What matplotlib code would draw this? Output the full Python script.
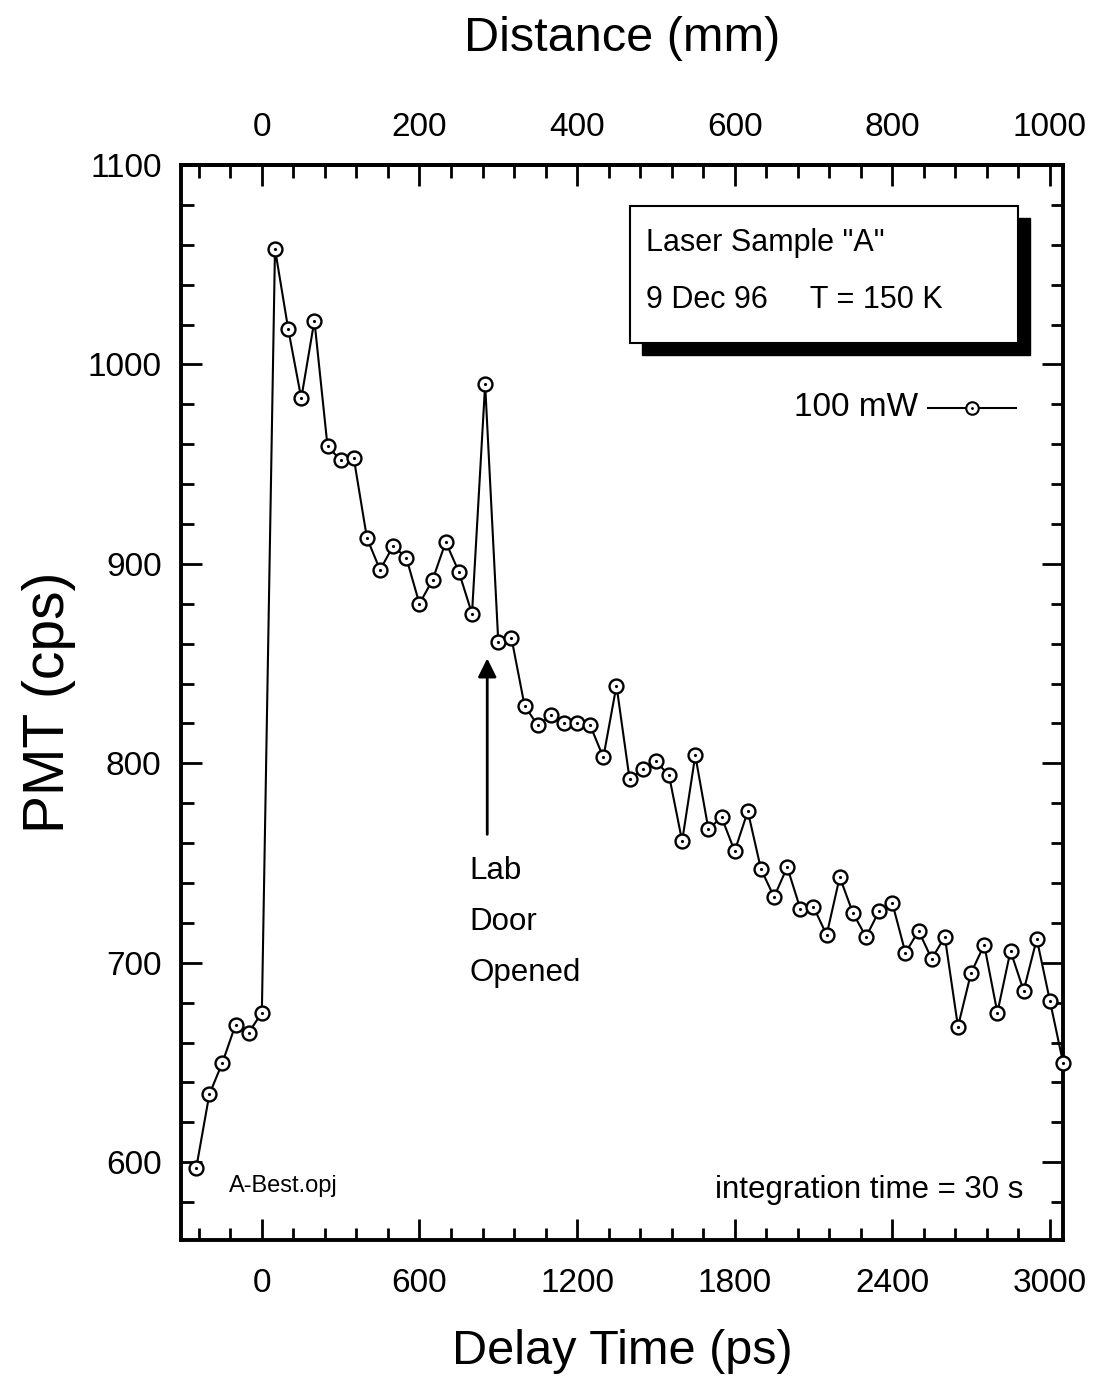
import numpy as np
import matplotlib
matplotlib.use("Agg")
from matplotlib import pyplot as plt
from matplotlib.ticker import MultipleLocator
from matplotlib.patches import Rectangle

plt.rcParams['font.family'] = ['Liberation Sans', 'DejaVu Sans']

# delay time (ps), 50 ps steps
delay = np.arange(-250, 3051, 50)
pmt = [597, 634, 650, 669, 665, 675,
       1058, 1018, 983, 1022, 959, 952, 953, 913, 897, 909, 903, 880, 892, 911,
       896, 875, 990, 861, 863, 829, 819, 824, 820, 820, 819, 803, 839, 792,
       797, 801, 794, 761, 804, 767, 773, 756, 776, 747, 733, 748, 727, 728,
       714, 743, 725, 713, 726, 730, 705, 716, 702, 713, 668, 695, 709, 675,
       706, 686, 712, 681, 650]

xticks = [0, 600, 1200, 1800, 2400, 3000]
yticks = [600, 700, 800, 900, 1000, 1100]
dticks = [0, 200, 400, 600, 800, 1000]

fig = plt.figure(figsize=(10.94, 13.76), dpi=100)
ax = fig.add_axes([0.1654, 0.0988, 0.8063, 0.7813])

ax.plot(delay, pmt, color='black', lw=1.5, marker='o', ms=10,
        mfc='white', mec='black', mew=1.7, clip_on=False, zorder=3)
ax.plot(delay, pmt, ls='none', marker='.', ms=2.5, color='black', clip_on=False, zorder=4)

ax.set_xlim(-308, 3050)
ax.set_ylim(561, 1100)
ax.set_xticks(xticks)
ax.set_yticks(yticks)
ax.xaxis.set_minor_locator(MultipleLocator(120))
ax.yaxis.set_minor_locator(MultipleLocator(20))
ax.tick_params(which='both', direction='in', top=False, right=True, width=2, labelsize=24)
ax.tick_params(axis='x', pad=20)
ax.tick_params(axis='y', pad=14)
ax.tick_params(which='major', length=15)
ax.tick_params(which='minor', length=9)
for s in ax.spines.values():
    s.set_linewidth(2.8)

ax.set_xlabel('Delay Time (ps)', fontsize=35, labelpad=22)
ax.set_ylabel('PMT (cps)', fontsize=41, labelpad=8)

sec = ax.secondary_xaxis('top', functions=(lambda t: t / 3.0, lambda d: d * 3.0))
sec.set_xticks(dticks)
sec.xaxis.set_minor_locator(MultipleLocator(40))
sec.tick_params(which='both', direction='in', width=2, labelsize=24, pad=16)
sec.tick_params(which='major', length=15)
sec.tick_params(which='minor', length=9)
sec.set_xlabel('Distance (mm)', fontsize=35, labelpad=44)
sec.spines['top'].set_linewidth(2.8)

# info box with shadow
tr = ax.transAxes
bx, by, bw, bh = 0.509, 0.834, 0.44, 0.128
ax.add_patch(Rectangle((bx + 0.014, by - 0.011), bw, bh, transform=tr,
                       facecolor='black', edgecolor='black', zorder=5))
ax.add_patch(Rectangle((bx, by), bw, bh, transform=tr,
                       facecolor='white', edgecolor='black', lw=1.5, zorder=6))
ax.text(bx + 0.018, by + 0.093, 'Laser Sample "A"', transform=tr, fontsize=22,
        va='center', zorder=7)
ax.text(bx + 0.018, by + 0.040, '9 Dec 96     T = 150 K', transform=tr, fontsize=22,
        va='center', zorder=7)

# legend entry
ax.text(0.836, 0.774, '100 mW', transform=tr, fontsize=24, ha='right', va='center')
ax.plot([0.847, 0.947], [0.774, 0.774], transform=tr, color='black', lw=1.5,
        clip_on=False)
ax.plot([0.897], [0.774], transform=tr, marker='o', ms=9, mfc='white', mec='black',
        mew=1.5, clip_on=False)
ax.plot([0.897], [0.774], transform=tr, marker='.', ms=2, color='black', clip_on=False)

# arrow and note
ax.annotate('', xy=(858, 854), xytext=(858, 763),
            arrowprops=dict(arrowstyle='-|>', color='black', lw=2, mutation_scale=28))
ax.text(789, 746, 'Lab', fontsize=22.5, va='center')
ax.text(789, 720.5, 'Door', fontsize=22.5, va='center')
ax.text(789, 695, 'Opened', fontsize=22.5, va='center')

ax.text(-126, 588, 'A-Best.opj', fontsize=17, va='center')
ax.text(0.955, 0.047, 'integration time = 30 s', transform=tr, fontsize=22.5,
        ha='right', va='center')

fig.savefig('out.png', dpi=100)
